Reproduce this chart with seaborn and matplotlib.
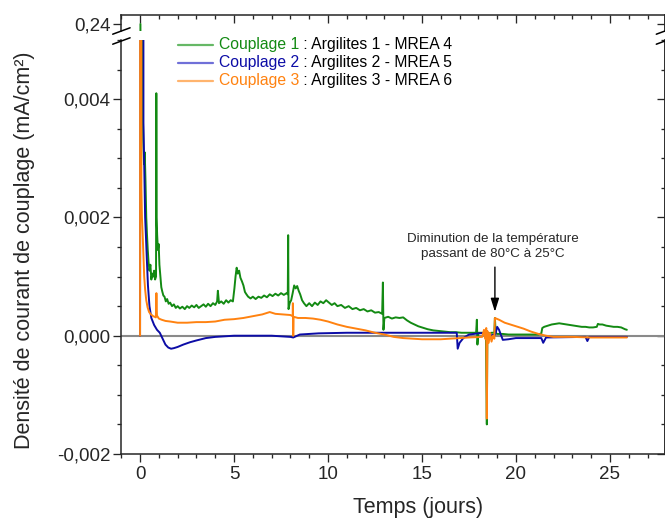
import numpy as np
import pandas as pd
import matplotlib
matplotlib.use("Agg")
import matplotlib.pyplot as plt
import seaborn as sns
from matplotlib.lines import Line2D
from matplotlib.ticker import MultipleLocator, FixedLocator, FuncFormatter
from matplotlib.offsetbox import AnchoredOffsetbox, HPacker, VPacker, TextArea, DrawingArea

# ---------------- data (time in days, current density in µA/cm²) ----------------
series_names = ["Couplage 1", "Couplage 2", "Couplage 3"]
series_desc = [" : Argilites 1 - MREA 4", " : Argilites 2 - MREA 5", " : Argilites 3 - MREA 6"]
line_colors = ["#138a13", "#0c0ca6", "#ff8210"]
handle_colors = ["#66b866", "#7070d8", "#ffb46e"]

g_t = [0.02, 0.05, 0.09, 0.13, 0.17, 0.21, 0.25, 0.29, 0.33, 0.37, 0.41, 0.45, 0.50, 0.55, 0.60,
       0.65, 0.70, 0.75, 0.80, 0.85, 0.865, 0.88, 0.91, 0.95, 0.99, 1.03, 1.08, 1.13, 1.18, 1.24,
       1.30, 1.37, 1.44, 1.52, 1.60, 1.70, 1.80, 1.90, 2.00, 2.12, 2.25, 2.38, 2.50, 2.62, 2.75,
       2.88, 3.00, 3.12, 3.25, 3.38, 3.50, 3.62, 3.75, 3.88, 4.00, 4.10, 4.14, 4.20, 4.32, 4.45,
       4.58, 4.70, 4.82, 4.94, 5.02, 5.08, 5.14, 5.20, 5.27, 5.34, 5.42, 5.50, 5.58, 5.66, 5.75,
       5.88, 6.00, 6.15, 6.30, 6.45, 6.60, 6.75, 6.90, 7.05, 7.20, 7.35, 7.50, 7.65, 7.80, 7.86,
       7.88, 7.90, 7.96, 8.04, 8.12, 8.20, 8.28, 8.36, 8.44, 8.52, 8.62, 8.72, 8.85, 9.00, 9.15,
       9.30, 9.45, 9.60, 9.75, 9.90, 10.05, 10.20, 10.35, 10.50, 10.70, 10.90, 11.10, 11.30, 11.50,
       11.70, 11.90, 12.10, 12.30, 12.50, 12.70, 12.88, 12.92, 12.95, 13.00, 13.20, 13.40, 13.60,
       13.80, 14.00, 14.20, 14.40, 14.60, 14.80, 15.00, 15.30, 15.60, 15.90, 16.20, 16.50, 16.80,
       17.10, 17.40, 17.70, 17.88, 17.92, 17.95, 18.00, 18.20, 18.40, 18.45, 18.48, 18.55, 18.70,
       18.85, 18.88, 18.92, 19.00, 19.30, 19.60, 20.00, 20.40, 20.80, 21.20, 21.35, 21.40, 21.50,
       21.70, 21.90, 22.10, 22.30, 22.50, 22.70, 22.90, 23.10, 23.30, 23.50, 23.70, 23.90, 24.10,
       24.30, 24.36, 24.45, 24.60, 24.80, 25.00, 25.20, 25.40, 25.60, 25.80, 25.90]
g_v = [240, 40, 9, 4.2, 3.3, 2.9, 3.1, 2.6, 2.0, 1.7, 1.45, 1.25, 1.1, 1.2, 0.95,
       1.05, 1.0, 1.1, 0.95, 1.0, 4.1, 2.0, 1.7, 1.45, 1.55, 1.2, 1.0, 0.82, 0.75, 0.68,
       0.66, 0.58, 0.62, 0.54, 0.56, 0.50, 0.53, 0.47, 0.50, 0.46, 0.49, 0.45, 0.50, 0.47, 0.51,
       0.48, 0.52, 0.47, 0.50, 0.53, 0.49, 0.54, 0.50, 0.55, 0.52, 0.58, 0.76, 0.55, 0.58, 0.54,
       0.60, 0.56, 0.60, 0.58, 0.80, 1.00, 1.15, 1.05, 1.10, 0.98, 0.92, 0.85, 0.74, 0.70, 0.66,
       0.63, 0.66, 0.62, 0.66, 0.64, 0.68, 0.65, 0.70, 0.67, 0.71, 0.68, 0.72, 0.69, 0.72, 0.70,
       1.70, 0.45, 0.55, 0.60, 0.72, 0.85, 0.80, 0.84, 0.76, 0.70, 0.60, 0.55, 0.50, 0.55, 0.50,
       0.56, 0.52, 0.58, 0.55, 0.60, 0.56, 0.52, 0.55, 0.50, 0.52, 0.47, 0.50, 0.45, 0.47,
       0.43, 0.45, 0.41, 0.43, 0.39, 0.40, 0.37, 0.90, 0.10, 0.30, 0.32, 0.29, 0.31,
       0.30, 0.31, 0.26, 0.22, 0.19, 0.16, 0.14, 0.11, 0.09, 0.08, 0.07, 0.06, 0.06,
       0.05, 0.05, 0.05, 0.05, 0.27, -0.15, 0.05, 0.05, 0.04, -1.50, 0.05, 0.04, 0.05,
       0.05, 0.30, 0.05, 0.03, 0.03, 0.02, 0.02, 0.02, 0.02, 0.02, 0.04, 0.13, 0.15,
       0.17, 0.19, 0.20, 0.21, 0.20, 0.19, 0.18, 0.17, 0.16, 0.15, 0.15, 0.14, 0.14,
       0.15, 0.20, 0.19, 0.19, 0.17, 0.16, 0.15, 0.15, 0.14, 0.11, 0.10]

b_t = [0.00, 0.10, 0.16, 0.18, 0.22, 0.27, 0.31, 0.36, 0.42, 0.50, 0.60, 0.75, 0.90, 1.05, 1.20,
       1.35, 1.50, 1.65, 1.80, 2.00, 2.30, 2.66, 3.00, 3.50, 4.00, 5.00, 6.00, 7.00, 8.00, 8.15,
       8.50, 9.50, 11.0, 13.0, 15.0, 16.85, 16.90, 17.00, 17.20, 17.50, 18.00, 18.40, 18.50, 18.90,
       19.00, 19.10, 19.30, 19.60, 20.00, 21.00, 21.35, 21.45, 21.60, 23.70, 23.80, 23.90, 25.90]
b_v = [0.0, 30, 30, 3.6, 2.9, 2.0, 1.7, 1.3, 0.85, 0.5, 0.3, 0.18, 0.1, 0.05, -0.05,
       -0.15, -0.20, -0.22, -0.21, -0.19, -0.15, -0.11, -0.08, -0.04, -0.02, 0.0, 0.0, 0.0, -0.02, -0.03,
       0.02, 0.04, 0.05, 0.05, 0.05, 0.05, -0.22, -0.12, -0.04, 0.02, 0.04, 0.05, 0.0, 0.02,
       0.15, 0.10, -0.07, -0.06, -0.04, -0.04, -0.04, -0.12, -0.03, -0.02, -0.09, -0.02, -0.02]

o_t = [0.00, 0.01, 0.05, 0.07, 0.10, 0.14, 0.18, 0.22, 0.27, 0.33, 0.40, 0.48, 0.58, 0.70, 0.84,
       0.87, 0.90, 1.00, 1.15, 1.35, 1.60, 2.00, 2.50, 3.00, 3.50, 4.00, 4.50, 5.00, 5.50, 6.00,
       6.50, 6.90, 7.20, 7.60, 8.00, 8.12, 8.13, 8.15, 8.17, 8.40, 8.80, 9.20, 9.60, 10.00, 10.50,
       11.00, 11.50, 12.00, 12.50, 13.00, 13.50, 14.00, 15.00, 16.00, 17.00, 17.50, 18.20, 18.30,
       18.36, 18.42, 18.45, 18.48, 18.55, 18.62, 18.70, 18.78, 18.85, 18.88, 18.95, 19.10, 19.40,
       19.70, 20.00, 20.40, 20.80, 21.20, 21.60, 22.00, 23.00, 24.00, 25.00, 25.90]
o_v = [0.0, 20, 20, 2.5, 2.0, 1.7, 1.35, 1.0, 0.78, 0.60, 0.48, 0.40, 0.36, 0.33, 0.31,
       0.72, 0.34, 0.29, 0.27, 0.25, 0.24, 0.22, 0.22, 0.23, 0.23, 0.24, 0.27, 0.28, 0.30, 0.33,
       0.36, 0.40, 0.37, 0.36, 0.35, 0.33, 0.55, 0.0, 0.32, 0.30, 0.30, 0.29, 0.27, 0.24, 0.19,
       0.15, 0.12, 0.09, 0.05, 0.02, -0.02, -0.04, -0.06, -0.06, -0.04, -0.03, -0.02, 0.10,
       -0.05, 0.13, -1.40, 0.08, -0.12, 0.05, -0.10, 0.0, -0.05, 0.30, 0.29, 0.27, 0.22,
       0.19, 0.16, 0.12, 0.07, 0.03, 0.0, -0.02, -0.02, -0.03, -0.03, -0.03]

assert len(g_t) == len(g_v) and len(b_t) == len(b_v) and len(o_t) == len(o_v)

frames = []
for name, t, v in zip(series_names, [g_t, b_t, o_t], [g_v, b_v, o_v]):
    frames.append(pd.DataFrame({"jours": t, "j": np.array(v) * 1e-3, "serie": name}))
df = pd.concat(frames, ignore_index=True)
palette = dict(zip(series_names, line_colors))

x_ticks = [0, 5, 10, 15, 20, 25]
y_ticks = [-0.002, 0.000, 0.002, 0.004]
y_top_ticks = [0.24]

# ---------------- figure ----------------
sns.set_style("ticks")
plt.rcParams["font.family"] = ["Liberation Sans", "DejaVu Sans"]
plt.rcParams["axes.linewidth"] = 1.1

W, H = 665, 521
fig = plt.figure(figsize=(W / 100, H / 100), dpi=100)
fx = lambda px: px / W
fy = lambda py: 1 - py / H

xl, xr = 120.7, 665.0
ax = fig.add_axes([fx(xl), fy(454), fx(xr) - fx(xl), fy(40) - fy(454)])
axt = fig.add_axes([fx(xl), fy(31), fx(xr) - fx(xl), fy(15) - fy(31)])

for a in (ax, axt):
    a.axhline(0, color="#8a8a8a", lw=1.5, zorder=1)
    sns.lineplot(data=df, x="jours", y="j", hue="serie", palette=palette, estimator=None,
                 sort=False, legend=False, ax=a, lw=1.4, zorder=2)
    a.set_xlim(-1.03, 27.93)
    a.xaxis.set_major_locator(FixedLocator(x_ticks))
    a.xaxis.set_minor_locator(MultipleLocator(1))
    a.set_xlabel("")
    a.set_ylabel("")

ax.set_ylim(-0.002, 0.005)
axt.set_ylim(0.233, 0.249)

fmt = FuncFormatter(lambda v, p: ("%.3f" % (0.0 if abs(v) < 1e-12 else v)).replace(".", ","))
ax.yaxis.set_major_locator(FixedLocator(y_ticks))
ax.yaxis.set_minor_locator(MultipleLocator(0.0005))
ax.yaxis.set_major_formatter(fmt)
axt.yaxis.set_major_locator(FixedLocator(y_top_ticks))
axt.yaxis.set_minor_locator(FixedLocator([]))
axt.yaxis.set_major_formatter(FuncFormatter(lambda v, p: ("%.2f" % v).replace(".", ",")))

ax.spines["top"].set_visible(False)
axt.spines["bottom"].set_visible(False)

TL, TM, TW = 5.8, 2.9, 0.95
ax.tick_params(axis="x", which="both", bottom=True, top=False, direction="out", width=TW,
               labelsize=13.5, pad=3)
ax.tick_params(axis="x", which="major", length=TL)
ax.tick_params(axis="x", which="minor", length=TM)
ax.tick_params(axis="y", which="both", left=True, right=False, direction="out", width=TW,
               labelsize=13.5, pad=1.5)
ax.tick_params(axis="y", which="major", length=TL)
ax.tick_params(axis="y", which="minor", length=TM)

axt.tick_params(axis="x", which="both", bottom=False, top=True, labelbottom=False,
                labeltop=False, direction="in", width=TW)
axt.tick_params(axis="x", which="major", length=TL)
axt.tick_params(axis="x", which="minor", length=TM)
axt.tick_params(axis="y", which="both", left=True, right=False, direction="out", width=TW,
                labelsize=13.5, pad=1.5, length=TL)

# right-hand inward ticks
for a, maj, mino in ((ax, y_ticks, True), (axt, y_top_ticks, False)):
    sec = a.secondary_yaxis("right")
    sec.yaxis.set_major_locator(FixedLocator(maj))
    if mino:
        sec.yaxis.set_minor_locator(MultipleLocator(0.0005))
    else:
        sec.yaxis.set_minor_locator(FixedLocator([]))
    sec.tick_params(axis="y", which="both", direction="in", labelright=False, width=TW)
    sec.tick_params(axis="y", which="major", length=TL)
    sec.tick_params(axis="y", which="minor", length=TM)
    sec.spines["right"].set_linewidth(1.1)

# axis labels
ax.set_xlabel("Temps (jours)", fontsize=15.5)
ax.xaxis.set_label_coords(0.546, -0.104)
ax.set_ylabel("Densité de courant de couplage (mA/cm²)", fontsize=15.5)
ax.yaxis.set_label_coords(-0.158, 0.493)

# axis break marks
for xc in (121.4, 665.0):
    for yc in (31.0, 41.0):
        fig.add_artist(Line2D([fx(xc - 8.7), fx(xc + 8.7)], [fy(yc + 3.2), fy(yc - 3.2)],
                              color="black", lw=1.1))

# annotation
ax.text(18.78, 0.00151, "Diminution de la température\npassant de 80°C à 25°C",
        ha="center", va="center", fontsize=9.6, linespacing=1.25)
ax.annotate("", xy=(18.88, 0.000405), xytext=(18.88, 0.00116),
            arrowprops=dict(arrowstyle="-|>,head_length=0.8,head_width=0.25", color="black",
                            lw=1.0, shrinkA=0, shrinkB=0))

# legend with two-coloured labels
rows = []
for name, desc, c, hc in zip(series_names, series_desc, line_colors, handle_colors):
    da = DrawingArea(25.2, 8, 0, 0)
    da.add_artist(Line2D([0, 25.2], [4, 4], color=hc, lw=1.6))
    t1 = TextArea(name, textprops=dict(color=c, size=11.3))
    t2 = TextArea(desc, textprops=dict(color="black", size=11.3))
    rows.append(HPacker(children=[da, HPacker(children=[t1, t2], sep=0, pad=0, align="baseline")],
                        sep=4.3, pad=0, align="center"))
box = VPacker(children=rows, sep=2.0, pad=0, align="left")
anch = AnchoredOffsetbox(loc="upper left", child=box, pad=0, borderpad=0, frameon=False,
                         bbox_to_anchor=(fx(178), fy(37.5)), bbox_transform=fig.transFigure)
ax.add_artist(anch)

fig.savefig("out.png", dpi=100)
